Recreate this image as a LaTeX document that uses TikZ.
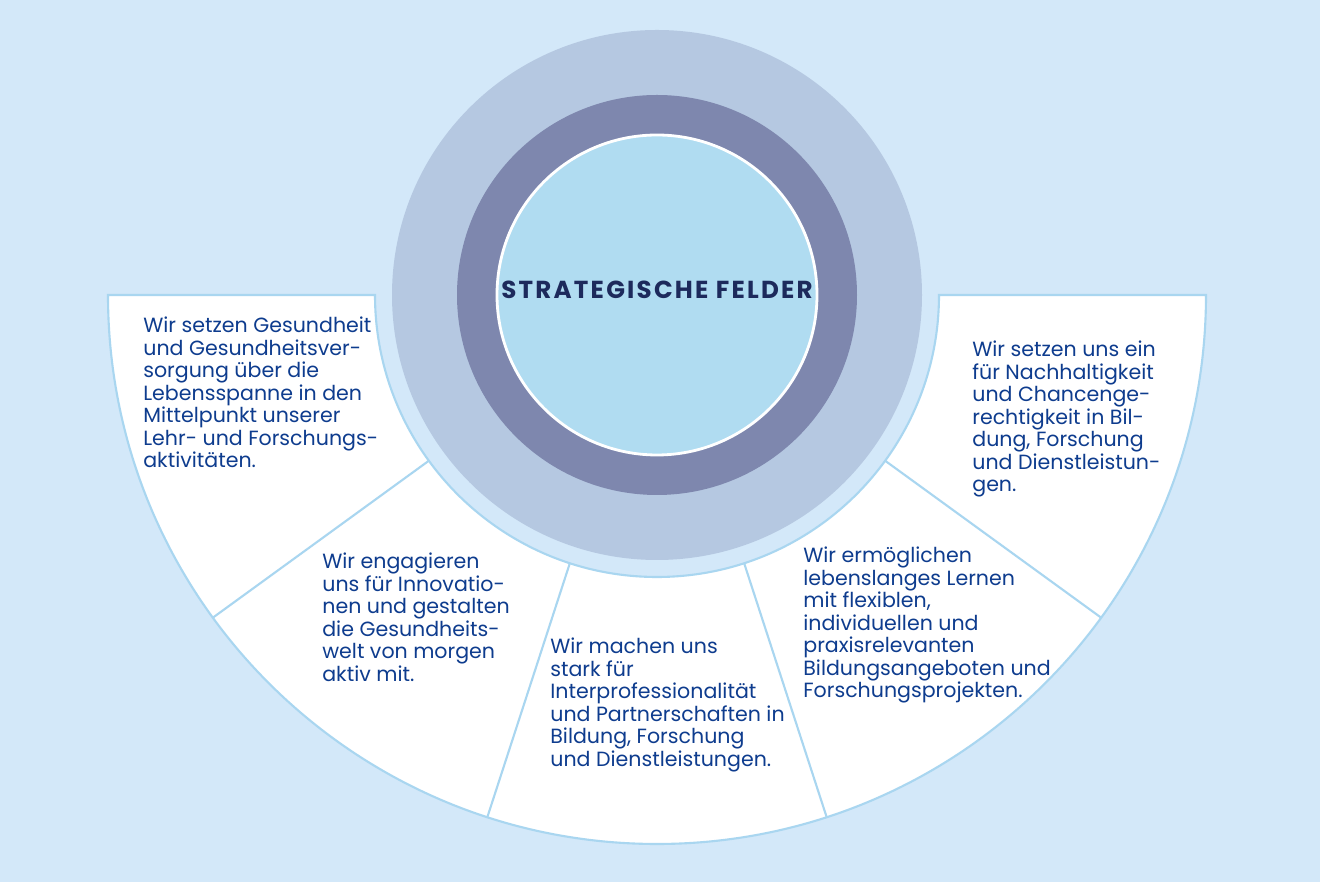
\documentclass[tikz,border=0pt]{standalone}
\usepackage{fontspec}
\setmainfont{Poppins}
\usetikzlibrary{calc,positioning}
\definecolor{bgblue}{HTML}{D3E8F9}
\definecolor{ringlight}{HTML}{B5C8E1}
\definecolor{ringdark}{HTML}{7E87AE}
\definecolor{coreblue}{HTML}{B0DCF1}
\definecolor{fanline}{HTML}{A9D6F0}
\definecolor{textblue}{HTML}{0E3C8E}
\definecolor{titlenavy}{HTML}{1D2A5C}

\begin{document}
\begin{tikzpicture}[x=0.02cm,y=0.02cm,
  feldtext/.style={anchor=north west,inner sep=0pt,align=left,text=textblue,
    font=\fontsize{11.7}{12.8}\selectfont}]
\useasboundingbox[fill=bgblue] (0,0) rectangle (1320,882);
\coordinate (mid) at (657,587);
% fan of five fields
\draw[fanline,line width=1.2pt,fill=white] (108,587) -- (375,587) arc[start angle=180,end angle=360,radius=282]
  -- (1206,587) arc[start angle=0,end angle=-180,radius=549] -- cycle;
\foreach \w in {216,252,288,324}
  \draw[fanline,line width=1.2pt] ($(mid)+(\w:282)$) -- ($(mid)+(\w:549)$);
% rings
\fill[ringlight] (mid) circle[radius=265];
\fill[ringdark] (mid) circle[radius=200];
\draw[white,line width=1.6pt,fill=coreblue] (mid) circle[radius=160];
\node[text=titlenavy,font=\fontsize{14}{16}\selectfont\bfseries\addfontfeatures{LetterSpace=9}] (title) at (657,592) {STRATEGISCHE FELDER};
% texts
\node[feldtext] (gesundheit) at (143,565) {Wir setzen Gesundheit\\ und Gesundheitsver-\\ sorgung über die\\ Lebensspanne in den\\ Mittelpunkt unserer\\ Lehr- und Forschungs-\\ aktivitäten.};
\node[feldtext] (innovation) at (322,329) {Wir engagieren\\ uns für Innovatio-\\ nen und gestalten\\ die Gesundheits-\\ welt von morgen\\ aktiv mit.};
\node[feldtext] (partner) at (550,244) {Wir machen uns\\ stark für\\ Interprofessionalität\\ und Partnerschaften in\\ Bildung, Forschung\\ und Dienstleistungen.};
\node[feldtext] (lernen) at (803,335) {Wir ermöglichen\\ lebenslanges Lernen\\ mit flexiblen,\\ individuellen und\\ praxisrelevanten\\ Bildungsangeboten und\\ Forschungsprojekten.};
\node[feldtext] (nachhaltig) at (972,541) {Wir setzen uns ein\\ für Nachhaltigkeit\\ und Chancenge-\\ rechtigkeit in Bil-\\ dung, Forschung\\ und Dienstleistun-\\ gen.};
\end{tikzpicture}
\end{document}
